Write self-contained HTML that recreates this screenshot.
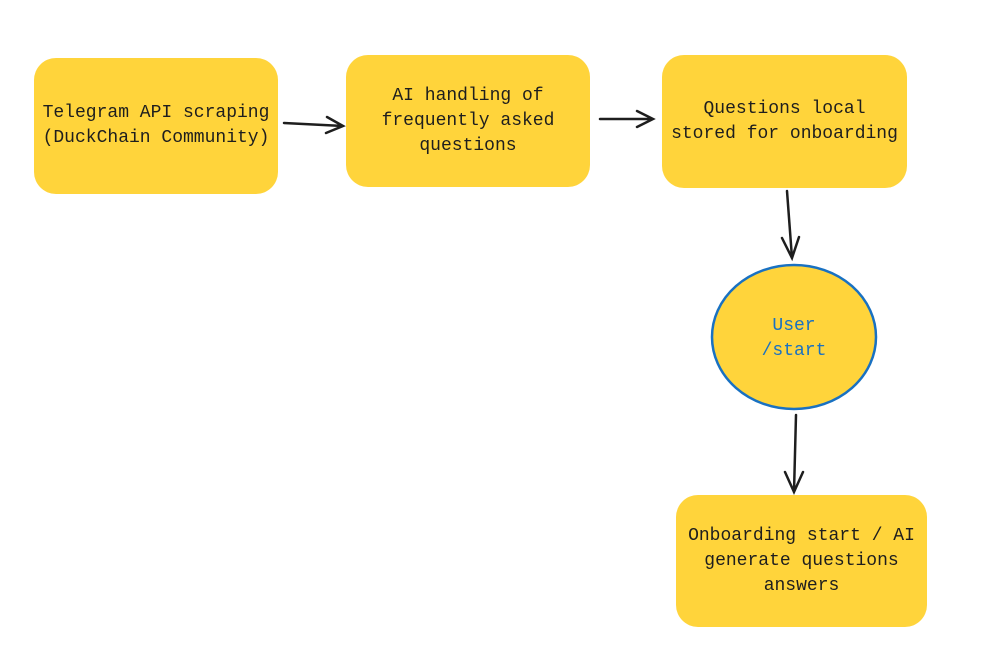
<!DOCTYPE html>
<html><head><meta charset="utf-8"><style>
html,body{margin:0;padding:0;background:#fff;}
.c{position:relative;width:990px;height:650px;overflow:hidden;font-family:"Liberation Mono",monospace;font-size:18px;color:#1e1e1e;}
.b{position:absolute;background:#ffd43b;border-radius:22px;display:flex;align-items:center;justify-content:center;text-align:center;line-height:25px;}
svg{position:absolute;left:0;top:0;}
</style></head><body><div class="c">
<div class="b" style="left:34px;top:58px;width:244px;height:136px;">Telegram API scraping<br>(DuckChain Community)</div>
<div class="b" style="left:346px;top:55px;width:244px;height:132px;">AI handling of<br>frequently asked<br>questions</div>
<div class="b" style="left:662px;top:55px;width:245px;height:133px;">Questions local<br>stored for onboarding</div>
<div class="b" style="left:676px;top:495px;width:251px;height:132px;">Onboarding start / AI<br>generate questions<br>answers</div>
<svg width="990" height="650">
<ellipse cx="794" cy="337" rx="82" ry="72" fill="#ffd43b" stroke="#1971c2" stroke-width="2.5"/>
<g stroke="#1e1e1e" stroke-width="2.5" fill="none" stroke-linecap="round">
<path d="M284 123 L343 126 M327 117 L343 126 L326 133"/>
<path d="M600 119 L653 119 M637 111 L653 119 L637 127"/>
<path d="M787 191 L792 258 M782 238 L792 258 L799 237"/>
<path d="M796 415 L794 492 M785 472 L794 492 L803 472"/>
</g>
<text x="794" y="330" text-anchor="middle" font-family="Liberation Mono,monospace" font-size="18" fill="#1971c2">User</text>
<text x="794" y="355" text-anchor="middle" font-family="Liberation Mono,monospace" font-size="18" fill="#1971c2">/start</text>
</svg>
</div></body></html>
